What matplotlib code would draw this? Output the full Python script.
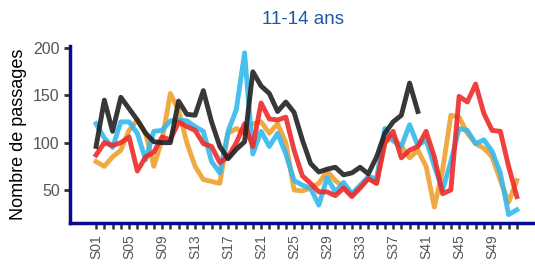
import numpy as np
import matplotlib.pyplot as plt

plt.rcParams['font.family'] = ['Liberation Sans', 'DejaVu Sans']

# semaines S01..S52
semaines = np.arange(1, 53)
etiquettes = ['S%02d' % s for s in semaines]

bleu = [120, 105, 95, 122, 122, 110, 82, 112, 113, 123,
        124, 123, 117, 112, 80, 68, 112, 135, 195, 88,
        112, 96, 110, 88, 60, 55, 52, 34, 63, 48,
        58, 46, 55, 64, 62, 115, 102, 96, 119, 97,
        103, 75, 50, 80, 115, 113, 99, 103, 91, 68,
        24, 29]

orange = [80, 75, 85, 92, 113, 124, 110, 75, 103, 152,
          134, 100, 75, 61, 59, 57, 110, 115, 110, 120,
          122, 110, 120, 100, 50, 49, 52, 57, 70, 60,
          53, 45, 53, 63, 57, 100, 106, 96, 84, 92,
          75, 32, 71, 129, 127, 110, 99, 94, 85, 60,
          37, 60]

rouge = [87, 100, 97, 100, 106, 70, 85, 90, 106, 103,
         122, 117, 113, 99, 96, 79, 85, 100, 120, 96,
         142, 125, 124, 127, 92, 65, 57, 48, 48, 44,
         52, 43, 52, 62, 57, 100, 112, 84, 92, 96,
         112, 85, 46, 50, 149, 143, 162, 131, 113, 112,
         75, 43]

noir = [96, 145, 112, 148, 136, 124, 110, 101, 100, 100,
        144, 130, 129, 155, 122, 96, 83, 93, 101, 175,
        160, 152, 133, 143, 132, 103, 78, 69, 72, 74,
        66, 68, 74, 67, 85, 110, 122, 129, 163, 133] + [np.nan] * 12

fig = plt.figure(figsize=(5.35, 2.64), dpi=100)
ax = fig.add_axes([0.131, 0.155, 0.869, 0.67])

ax.plot(semaines, orange, color='#F0A030', lw=3.5, alpha=0.9)
ax.plot(semaines, bleu, color='#33B8EE', lw=3.5, alpha=0.9)
ax.plot(semaines, rouge, color='#EE2A2A', lw=3.5, alpha=0.9)
ax.plot(semaines, noir, color='#222222', lw=3.5, alpha=0.9)

ax.set_xlim(-2.15, 54.2)
ax.set_ylim(15, 202)

ax.set_xticks(semaines)
ax.set_xticklabels([e if (s - 1) % 4 == 0 else '' for s, e in zip(semaines, etiquettes)],
                   rotation=90, fontsize=10, color='#555555')
ax.set_yticks([50, 100, 150, 200])
ax.tick_params(axis='y', labelsize=11.5, labelcolor='#555555', color='#333333',
               width=2, length=4)
ax.tick_params(axis='x', color='#333333', width=1.8, length=4.5)

for cote in ['top', 'right']:
    ax.spines[cote].set_visible(False)
for cote in ['left', 'bottom']:
    ax.spines[cote].set_color('#0A0A8C')
    ax.spines[cote].set_linewidth(2.5)

ax.set_ylabel('Nombre de passages', fontsize=13)
ax.set_title('11-14 ans', fontsize=13.5, color='#2056A8', pad=16)

fig.savefig('out.png', dpi=100)
